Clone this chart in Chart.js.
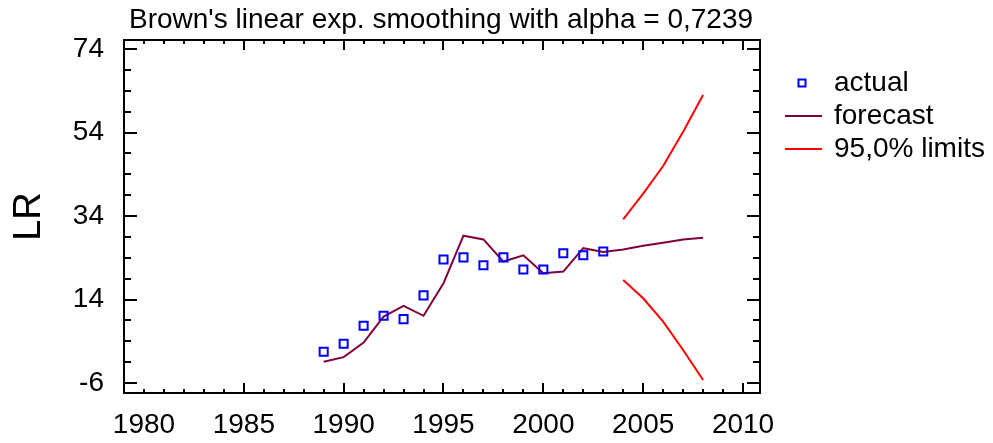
<!DOCTYPE html>
<html lang="en">
<head>
<meta charset="UTF-8">
<title>Brown's linear exp. smoothing</title>
<script src="https://cdn.jsdelivr.net/npm/chart.js"></script>
<style>
    html, body { margin: 0; padding: 0; background: #fff; }
    #wrap { width: 993px; height: 443px; }
</style>
</head>
<body>
<div id="wrap"><canvas id="lrChart" width="993" height="443"></canvas></div>
<script>
// data
const years = [1989, 1990, 1991, 1992, 1993, 1994, 1995, 1996, 1997, 1998,
               1999, 2000, 2001, 2002, 2003, 2004, 2005, 2006, 2007, 2008];
const actual = [1.5, 3.4, 7.7, 10.1, 9.3, 15.0, 23.6, 24.1, 22.2, 24.1,
                21.2, 21.2, 25.1, 24.6, 25.5, null, null, null, null, null];
const forecast = [-0.9, 0.2, 3.7, 9.9, 12.5, 10.1, 17.9, 29.3, 28.4, 23.1,
                  24.6, 20.3, 20.7, 26.3, 25.4, 26.0, 26.9, 27.6, 28.4, 28.8];
const upperLimit = [null, null, null, null, null, null, null, null, null, null,
                    null, null, null, null, null, 33.2, 39.4, 46.0, 54.2, 63.0];
const lowerLimit = [null, null, null, null, null, null, null, null, null, null,
                    null, null, null, null, null, 18.7, 14.3, 8.7, 1.9, -5.3];
const xTickLabels = [1980, 1985, 1990, 1995, 2000, 2005, 2010];
const yTickLabels = [-6, 14, 34, 54, 74];
const legendLabels = ['actual', 'forecast', '95,0% limits'];
const titleText = "Brown's linear exp. smoothing with alpha = 0,7239";
const yAxisTitle = 'LR';

const FONT = "'Liberation Sans', Arial, sans-serif";

function toPoints(values) {
    return years.map((yr, i) => ({ x: yr, y: values[i] }));
}

// frame, inward tick marks, title and legend
const decorations = {
    id: 'decorations',
    afterDraw(chart) {
        const { ctx, chartArea: a, scales } = chart;
        const xs = scales.x, ys = scales.y;
        ctx.save();
        ctx.strokeStyle = '#000';
        ctx.lineWidth = 2;
        ctx.strokeRect(a.left, a.top, a.right - a.left, a.bottom - a.top);

        ctx.beginPath();
        for (let yr = 1980; yr <= 2010; yr++) {
            const px = Math.round(xs.getPixelForValue(yr));
            const len = (xTickLabels.includes(yr) && yr > 1980) ? 10 : 4;
            ctx.moveTo(px, a.bottom); ctx.lineTo(px, a.bottom - len);
            ctx.moveTo(px, a.top); ctx.lineTo(px, a.top + len);
        }
        for (let v = -6; v <= 74; v += 5) {
            const py = Math.round(ys.getPixelForValue(v));
            const len = yTickLabels.includes(v) ? 13 : 7;
            ctx.moveTo(a.left, py); ctx.lineTo(a.left + len, py);
            ctx.moveTo(a.right, py); ctx.lineTo(a.right - len, py);
        }
        ctx.stroke();

        // title
        ctx.fillStyle = '#000';
        ctx.font = '28px ' + FONT;
        ctx.textAlign = 'center';
        ctx.textBaseline = 'middle';
        ctx.fillText(titleText, (a.left + a.right) / 2 - 1, 20);

        // legend
        const ds = chart.data.datasets;
        const rows = [83, 116, 149];
        ctx.textAlign = 'left';
        legendLabels.forEach((label, i) => {
            const y = rows[i];
            ctx.lineWidth = 2;
            ctx.strokeStyle = ds[i].borderColor;
            if (i === 0) {
                ctx.strokeRect(798.5, y - 3.5, 7, 7);
            } else {
                ctx.beginPath();
                ctx.moveTo(785, y); ctx.lineTo(822, y);
                ctx.stroke();
            }
            ctx.fillStyle = '#000';
            ctx.fillText(label, 834, y);
        });
        ctx.restore();
    }
};

new Chart(document.getElementById('lrChart'), {
    type: 'line',
    data: {
        datasets: [
            {
                label: legendLabels[0],
                data: toPoints(actual),
                showLine: false,
                pointStyle: 'rect',
                pointRadius: 5.7,
                pointBorderWidth: 2,
                borderColor: '#0000ff',
                pointBorderColor: '#0000ff',
                pointBackgroundColor: 'rgba(0,0,0,0)'
            },
            {
                label: legendLabels[1],
                data: toPoints(forecast),
                borderColor: '#800040',
                borderWidth: 2,
                pointRadius: 0,
                tension: 0
            },
            {
                label: legendLabels[2],
                data: toPoints(upperLimit),
                borderColor: '#ff0000',
                borderWidth: 2,
                pointRadius: 0,
                tension: 0
            },
            {
                label: 'lower',
                data: toPoints(lowerLimit),
                borderColor: '#ff0000',
                borderWidth: 2,
                pointRadius: 0,
                tension: 0
            }
        ]
    },
    options: {
        responsive: false,
        animation: false,
        devicePixelRatio: 1,
        layout: { padding: { left: 0, right: 233, top: 40, bottom: 0 } },
        plugins: {
            legend: { display: false },
            title: { display: false },
            tooltip: { enabled: false }
        },
        scales: {
            x: {
                type: 'linear',
                min: 1979,
                max: 2010.85,
                grid: { display: false },
                border: { display: false },
                afterBuildTicks: s => { s.ticks = xTickLabels.map(v => ({ value: v })); },
                afterFit: s => { s.height = 50; },
                ticks: {
                    padding: 7,
                    maxRotation: 0,
                    autoSkip: false,
                    color: '#000',
                    font: { family: FONT, size: 28 },
                    callback: v => String(v)
                }
            },
            y: {
                min: -8.4,
                max: 76.2,
                grid: { display: false },
                border: { display: false },
                afterBuildTicks: s => { s.ticks = yTickLabels.map(v => ({ value: v })); },
                afterFit: s => { s.width = 124; },
                ticks: {
                    padding: 12,
                    autoSkip: false,
                    color: '#000',
                    font: { family: FONT, size: 28 },
                    callback: v => String(v)
                },
                title: {
                    display: true,
                    text: yAxisTitle,
                    color: '#000',
                    font: { family: FONT, size: 38 },
                    padding: { top: 7, bottom: 0 }
                }
            }
        }
    },
    plugins: [decorations]
});
</script>
</body>
</html>
